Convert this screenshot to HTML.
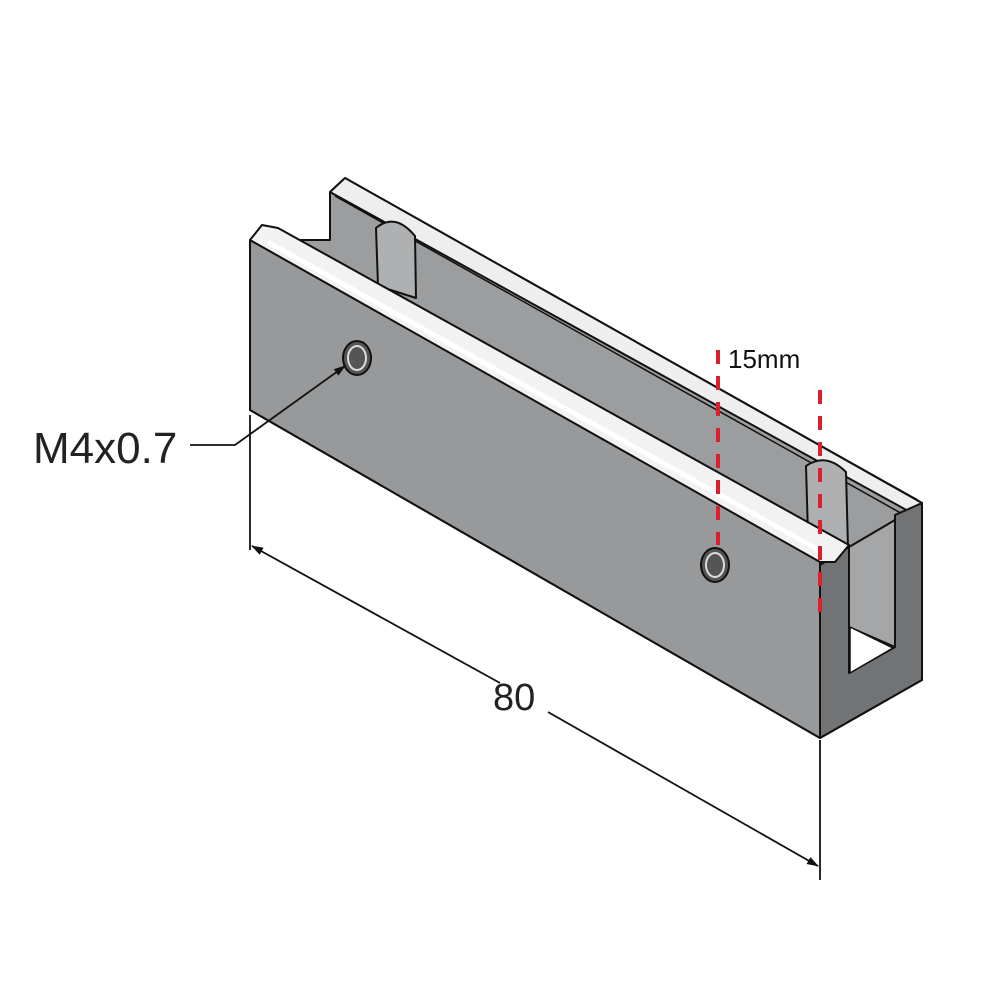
<!DOCTYPE html>
<html><head><style>body{margin:0;background:#fff}svg{display:block}</style></head><body>
<svg width="1000" height="1000" viewBox="0 0 1000 1000" xmlns="http://www.w3.org/2000/svg">
<defs>
<marker id="ah" markerWidth="12" markerHeight="8" refX="11" refY="4" orient="auto" markerUnits="userSpaceOnUse"><path d="M0,0 L12,4 L0,8 z" fill="#111"/></marker>
</defs>
<g stroke="#111" stroke-width="2" stroke-linejoin="round">
<polygon points="330,192 345,178 922,503 922,680 820,738 250,410 250,240 330,240" fill="#9b9d9f"/>
<polygon points="330,192 345,178 922,503 910,512" fill="#eeeeee"/>
<line x1="352" y1="182" x2="918" y2="500" stroke-width="1.2"/>
<line x1="335" y1="196" x2="906" y2="516" stroke-width="1.5"/>
<path d="M376,228 Q395,212 415,236 L416,298 L378,286 Z" fill="#aeb0b2"/>
<path d="M806,466 Q826,452 846,472 L848,548 L808,535 Z" fill="#aeb0b2"/>
<polygon points="820,565 849,547 849,673 895,647 895,515 922,503 922,680 820,738" fill="#717375"/>
<polygon points="849,547 895,520 895,647 849,627" fill="#a4a6a8"/>
<polygon points="850,627 893,648 850,673" fill="#ffffff" stroke-width="1.5"/>
<polygon points="250,240 820,560 820,738 250,410" fill="#97999b"/>
<polygon points="250,240 262,225 278,228 849,545 835,562 820,562" fill="#f2f2f2"/>
<line x1="268" y1="242" x2="822" y2="552" stroke="#fff" stroke-width="5"/>
<line x1="278" y1="228" x2="849" y2="545" stroke-width="1.5"/>
<ellipse cx="357" cy="358" rx="14" ry="17" fill="#555" />
<ellipse cx="357" cy="358" rx="9" ry="12" fill="none" stroke="#ddd" stroke-width="2"/>
<ellipse cx="715" cy="565" rx="14" ry="17" fill="#555"/>
<ellipse cx="715" cy="565" rx="9" ry="12" fill="none" stroke="#ddd" stroke-width="2"/>
</g>
<g stroke="#111" stroke-width="1.8" fill="none">
<line x1="250" y1="415" x2="250" y2="550"/>
<line x1="820" y1="740" x2="820" y2="880"/>
<line x1="500" y1="683" x2="252" y2="546" marker-end="url(#ah)"/>
<line x1="548" y1="712" x2="818" y2="866" marker-end="url(#ah)"/>
<polyline points="190,445 235,445 345,366" marker-end="url(#ah)"/>
</g>
<text x="493" y="710" font-family="Liberation Sans, sans-serif" font-size="38" fill="#222">80</text>
<text x="33" y="463" font-family="Liberation Sans, sans-serif" font-size="44" fill="#222">M4x0.7</text>
<g stroke="#d9202e" stroke-width="4" stroke-dasharray="14 12">
<line x1="718" y1="350" x2="718" y2="545"/>
<line x1="820" y1="390" x2="820" y2="612"/>
</g>
<text x="728" y="368" font-family="Liberation Sans, sans-serif" font-size="26" fill="#111">15mm</text>
</svg>
</body></html>
